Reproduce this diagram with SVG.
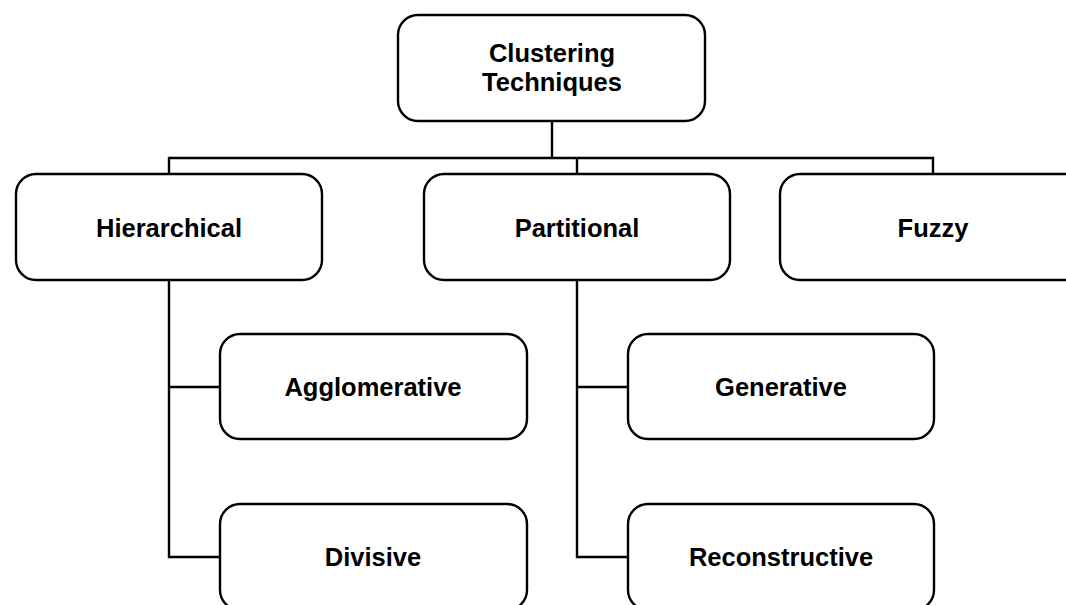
<svg xmlns="http://www.w3.org/2000/svg" width="1066" height="605" viewBox="0 0 1066 605">
<style>
.box{fill:#fff;stroke:#000;stroke-width:2.4}
.lbl{font-family:"Liberation Sans",Arial,sans-serif;font-weight:bold;font-size:25.5px;fill:#000;text-anchor:middle}
.conn{fill:none;stroke:#000;stroke-width:2.4}
</style>
<rect width="1066" height="605" fill="#fff"/>
<g id="connectors">
<path class="conn" d="M552,121 V158 M169,174 V158 H933 V174 M577,158 V174"/>
<path class="conn" d="M169,280 V557 H220 M169,387 H220"/>
<path class="conn" d="M577,280 V557 H628 M577,387 H628"/>
</g>
<g id="clustering">
<rect class="box" x="398" y="15" width="307" height="106" rx="20"/>
<text class="lbl" x="552" y="62">Clustering</text>
<text class="lbl" x="552" y="91">Techniques</text>
</g>
<g id="hierarchical">
<rect class="box" x="16" y="174" width="306" height="106" rx="20"/>
<text class="lbl" x="169" y="237">Hierarchical</text>
</g>
<g id="partitional">
<rect class="box" x="424" y="174" width="306" height="106" rx="20"/>
<text class="lbl" x="577" y="237">Partitional</text>
</g>
<g id="fuzzy">
<rect class="box" x="780" y="174" width="306" height="106" rx="20"/>
<text class="lbl" x="933" y="237">Fuzzy</text>
</g>
<g id="agglomerative">
<rect class="box" x="220" y="334" width="307" height="105" rx="20"/>
<text class="lbl" x="373" y="396">Agglomerative</text>
</g>
<g id="divisive">
<rect class="box" x="220" y="504" width="307" height="106" rx="20"/>
<text class="lbl" x="373" y="566">Divisive</text>
</g>
<g id="generative">
<rect class="box" x="628" y="334" width="306" height="105" rx="20"/>
<text class="lbl" x="781" y="396">Generative</text>
</g>
<g id="reconstructive">
<rect class="box" x="628" y="504" width="306" height="106" rx="20"/>
<text class="lbl" x="781" y="566">Reconstructive</text>
</g>
</svg>
